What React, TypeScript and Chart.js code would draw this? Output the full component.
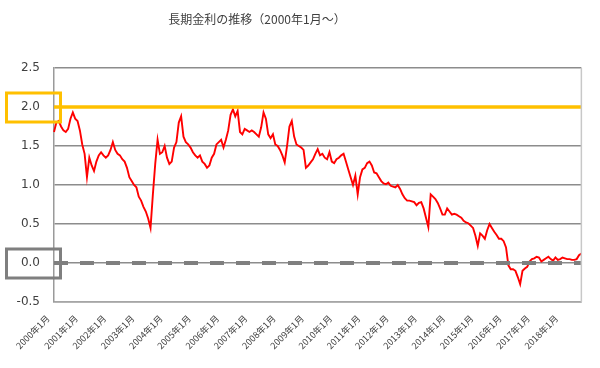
import React, { useEffect, useRef } from 'react';
import { Chart, registerables } from 'chart.js';

Chart.register(...registerables);

const chartTitle = '長期金利の推移（2000年1月～）';

// Monthly 10-year JGB yield (%), Jan of each year first
const y2000 = [1.68, 1.80, 1.82, 1.75, 1.70, 1.68, 1.72, 1.85, 1.93, 1.85, 1.82, 1.70];
const y2001 = [1.52, 1.40, 1.10, 1.35, 1.25, 1.18, 1.30, 1.38, 1.42, 1.38, 1.35, 1.38];
const y2002 = [1.45, 1.55, 1.45, 1.40, 1.38, 1.33, 1.30, 1.22, 1.10, 1.05, 1.00, 0.97];
const y2003 = [0.85, 0.80, 0.72, 0.66, 0.57, 0.45, 0.88, 1.27, 1.58, 1.40, 1.42, 1.50];
const y2004 = [1.35, 1.27, 1.30, 1.48, 1.55, 1.80, 1.88, 1.62, 1.55, 1.52, 1.48, 1.42];
const y2005 = [1.38, 1.35, 1.38, 1.30, 1.27, 1.22, 1.25, 1.35, 1.40, 1.52, 1.55, 1.58];
const y2006 = [1.48, 1.58, 1.70, 1.90, 1.97, 1.88, 1.95, 1.68, 1.65, 1.72, 1.70, 1.68];
const y2007 = [1.70, 1.68, 1.65, 1.62, 1.74, 1.93, 1.85, 1.65, 1.60, 1.65, 1.52, 1.50];
const y2008 = [1.45, 1.38, 1.29, 1.50, 1.75, 1.82, 1.62, 1.52, 1.50, 1.48, 1.45, 1.22];
const y2009 = [1.25, 1.29, 1.33, 1.40, 1.46, 1.38, 1.40, 1.35, 1.33, 1.42, 1.30, 1.28];
const y2010 = [1.33, 1.35, 1.38, 1.40, 1.30, 1.20, 1.10, 1.00, 1.12, 0.88, 1.10, 1.20];
const y2011 = [1.22, 1.28, 1.30, 1.25, 1.16, 1.15, 1.10, 1.05, 1.02, 1.01, 1.03, 0.99];
const y2012 = [0.98, 0.97, 1.00, 0.95, 0.88, 0.83, 0.80, 0.80, 0.79, 0.78, 0.74, 0.77];
const y2013 = [0.78, 0.70, 0.58, 0.46, 0.88, 0.85, 0.82, 0.77, 0.70, 0.62, 0.62, 0.70];
const y2014 = [0.66, 0.62, 0.63, 0.62, 0.60, 0.58, 0.54, 0.52, 0.51, 0.48, 0.45, 0.35];
const y2015 = [0.22, 0.38, 0.35, 0.31, 0.42, 0.50, 0.45, 0.40, 0.36, 0.31, 0.31, 0.28];
const y2016 = [0.20, -0.03, -0.08, -0.08, -0.10, -0.18, -0.27, -0.10, -0.07, -0.05, 0.02, 0.05];
const y2017 = [0.06, 0.08, 0.07, 0.02, 0.04, 0.06, 0.08, 0.05, 0.03, 0.07, 0.04, 0.05];
const y2018 = [0.07, 0.06, 0.05, 0.05, 0.04, 0.04, 0.05, 0.10, 0.12];

const yearBlocks: [number, number[]][] = [
  [2000, y2000], [2001, y2001], [2002, y2002], [2003, y2003], [2004, y2004],
  [2005, y2005], [2006, y2006], [2007, y2007], [2008, y2008], [2009, y2009],
  [2010, y2010], [2011, y2011], [2012, y2012], [2013, y2013], [2014, y2014],
  [2015, y2015], [2016, y2016], [2017, y2017], [2018, y2018],
];

const yMin = -0.5;
const yMax = 2.5;
const yStep = 0.5;
const referenceLevel = 2.0; // yellow line
const zeroLevel = 0.0; // dashed line

const labels: string[] = [];
const yields: number[] = [];
yearBlocks.forEach(([yr, vals]) => {
  vals.forEach((v, m) => {
    labels.push(`${yr}年${m + 1}月`);
    yields.push(v);
  });
});

const overlayPlugin = {
  id: 'overlay',
  afterDraw(chart: any) {
    const { ctx, chartArea, scales } = chart;
    const ys = scales.y;
    ctx.save();
    // right border of plot area
    ctx.strokeStyle = '#c8c8c8';
    ctx.lineWidth = 1.5;
    ctx.beginPath();
    ctx.moveTo(chartArea.right, chartArea.top);
    ctx.lineTo(chartArea.right, chartArea.bottom);
    ctx.stroke();
    // highlight boxes around tick labels
    const box = (val: number, color: string) => {
      const cy = ys.getPixelForValue(val);
      ctx.strokeStyle = color;
      ctx.lineWidth = 3;
      ctx.strokeRect(6.5, cy - 14, 54, 29);
    };
    box(referenceLevel, '#FFC000');
    box(zeroLevel, '#7f7f7f');
    // title
    ctx.fillStyle = '#404040';
    ctx.font = '12px "Noto Sans CJK JP"';
    ctx.textAlign = 'center';
    ctx.textBaseline = 'middle';
    ctx.fillText(chartTitle, 257, 19);
    ctx.restore();
  },
};

export default function App() {
  const ref = useRef<HTMLCanvasElement | null>(null);
  useEffect(() => {
    if (!ref.current) return;
    const chart = new Chart(ref.current, {
      type: 'line',
      data: {
        labels,
        datasets: [
          {
            label: '2.0%',
            data: labels.map(() => referenceLevel),
            borderColor: '#FFC000',
            borderWidth: 3.5,
            pointRadius: 0,
          },
          {
            label: '0%',
            data: labels.map(() => zeroLevel),
            borderColor: '#7f7f7f',
            borderWidth: 4,
            borderDash: [14, 12],
            pointRadius: 0,
          },
          {
            label: '長期金利',
            data: yields,
            borderColor: '#ff0000',
            borderWidth: 1.9,
            pointRadius: 0,
            tension: 0,
          },
        ],
      },
      options: {
        animation: false,
        responsive: false,
        maintainAspectRatio: false,
        layout: { padding: { top: 68, right: 9, left: 0, bottom: 0 } },
        plugins: {
          legend: { display: false },
          title: { display: false },
          tooltip: { enabled: false },
        },
        scales: {
          x: {
            type: 'category',
            grid: { display: false, drawTicks: false },
            border: { display: true, color: '#a6a6a6', width: 1.5 },
            ticks: {
              autoSkip: false,
              maxRotation: 45,
              minRotation: 45,
              padding: 11,
              labelOffset: -6,
              color: '#404040',
              font: { family: '"Noto Sans CJK JP"', size: 9 },
              callback: (_v: any, i: number) => (labels[i].endsWith('年1月') ? labels[i] : ''),
            },
            afterFit: (s: any) => {
              s.height = 66;
            },
          },
          y: {
            min: yMin,
            max: yMax,
            grid: { color: '#8c8c8c', lineWidth: 1.5, drawTicks: false },
            border: { color: '#9a9a9a', width: 1.5 },
            ticks: {
              stepSize: yStep,
              padding: 14,
              color: '#404040',
              font: { family: '"DejaVu Sans"', size: 12 },
              callback: (v: any) => Number(v).toFixed(1),
            },
            afterFit: (s: any) => {
              s.width = 54;
            },
          },
        },
      },
      plugins: [overlayPlugin],
    });
    return () => chart.destroy();
  }, []);
  return (
    <div style={{ position: 'fixed', left: 0, top: 0, width: 600, height: 368, background: '#fff' }}>
      <canvas ref={ref} width={600} height={368} />
    </div>
  );
}
